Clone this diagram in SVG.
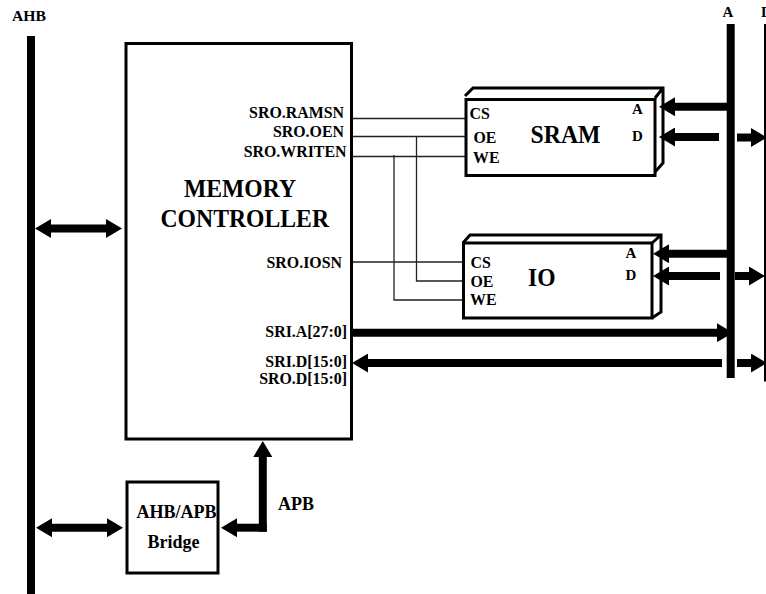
<svg xmlns="http://www.w3.org/2000/svg" width="766" height="594" viewBox="0 0 766 594">
<style>
text{font-family:"Liberation Serif","Times New Roman",serif;font-weight:bold;fill:#000;font-size:15.9px}
.big{font-size:25.500px}
.mid{font-size:18px}
.small{font-size:15px}
.end{text-anchor:end}
.box{fill:#fff;stroke:#000;stroke-width:3}
.edge{fill:none;stroke:#000;stroke-width:3}
.wire{fill:none;stroke:#222;stroke-width:1.3}
.bus{fill:none;stroke:#000;stroke-width:8}
.arr{fill:none;stroke:#000;stroke-width:8;marker-end:url(#h)}
.arr2{fill:none;stroke:#000;stroke-width:8;marker-start:url(#h);marker-end:url(#h)}
</style>
<defs>
<marker id="h" markerUnits="userSpaceOnUse" markerWidth="16" markerHeight="19" viewBox="0 0 16 19" refX="0" refY="9.5" orient="auto-start-reverse"><path d="M0 0L16 9.5L0 19Z" fill="#000"/></marker>
</defs>
<rect width="766" height="594" fill="#fff"/>
<g id="connectors">
<path class="bus" d="M31 36V594"/>
<path class="bus" d="M730.700 24V378"/>
<path d="M765 24V381.500" fill="none" stroke="#000" stroke-width="2"/>
<path class="wire" d="M353 118.500H465"/>
<path class="wire" d="M353 136.500H465"/>
<path class="wire" d="M353 156.500H465"/>
<path class="wire" d="M416.500 136.500V281H463"/>
<path class="wire" d="M394 155V300H463"/>
<path class="wire" d="M349 262H463"/>
<path class="arr2" d="M51 228.500H106"/>
<path class="arr2" d="M52 527.700H107"/>
<path class="arr" d="M727 106.700H675"/>
<path class="arr" d="M719 137H675"/>
<path class="arr" d="M737 137.500H751"/>
<path class="arr" d="M727 253.700H669"/>
<path class="arr" d="M720 276H669"/>
<path class="arr" d="M735 276H749"/>
<path class="arr" d="M352 332.700H717"/>
<path class="arr" d="M722 363H368"/>
<path class="arr" d="M737 363H751"/>
<path class="arr" d="M262.800 531.700V457"/>
<path class="arr" d="M266.800 527.700H237"/>
</g>
<g id="ahb-bus"><text class="small" x="12" y="21" textLength="34" lengthAdjust="spacingAndGlyphs">AHB</text></g>
<g id="a-bus"><text class="small" x="722.500" y="17">A</text></g>
<g id="d-bus"><text class="small" x="761" y="17">D</text></g>
<g id="memory-controller">
<rect class="box" x="126" y="43.500" width="225.500" height="395.500"/>
<text class="big" x="184" y="197" textLength="112" lengthAdjust="spacingAndGlyphs">MEMORY</text>
<text class="big" x="160.500" y="227" textLength="168.500" lengthAdjust="spacingAndGlyphs">CONTROLLER</text>
<text class="end" x="344" y="118">SRO.RAMSN</text>
<text class="end" x="344" y="137">SRO.OEN</text>
<text class="end" x="346.500" y="156.500">SRO.WRITEN</text>
<text class="end" x="342" y="268">SRO.IOSN</text>
<text class="end" x="347" y="337">SRI.A[27:0]</text>
<text class="end" x="347" y="367">SRI.D[15:0]</text>
<text class="end" x="347" y="384">SRO.D[15:0]</text>
</g>
<g id="sram">
<path class="edge" d="M465 96L473 88H663V163L655 172M655 98L663 88"/>
<rect class="box" x="466" y="99.500" width="189" height="76"/>
<text x="469.500" y="119">CS</text>
<text x="473.500" y="143">OE</text>
<text x="473" y="162.500">WE</text>
<text class="big" x="530.500" y="143" textLength="70" lengthAdjust="spacingAndGlyphs">SRAM</text>
<text class="small" x="632" y="114">A</text>
<text class="small" x="632" y="141">D</text>
</g>
<g id="io">
<path class="edge" d="M463 243L470 235H661V312L652 318M652 243L661 235"/>
<rect class="box" x="463.500" y="243" width="188.500" height="75"/>
<text x="470.500" y="268">CS</text>
<text x="470.500" y="287">OE</text>
<text x="470" y="305">WE</text>
<text class="big" x="528" y="286" textLength="27.500" lengthAdjust="spacingAndGlyphs">IO</text>
<text class="small" x="625.500" y="258">A</text>
<text class="small" x="625.500" y="280">D</text>
</g>
<g id="bridge">
<rect class="box" x="127" y="482" width="91" height="91"/>
<text class="mid" x="136.500" y="518">AHB/APB</text>
<text class="mid" x="147.500" y="548">Bridge</text>
</g>
<g id="apb-label"><text class="mid" x="278" y="510">APB</text></g>
</svg>
